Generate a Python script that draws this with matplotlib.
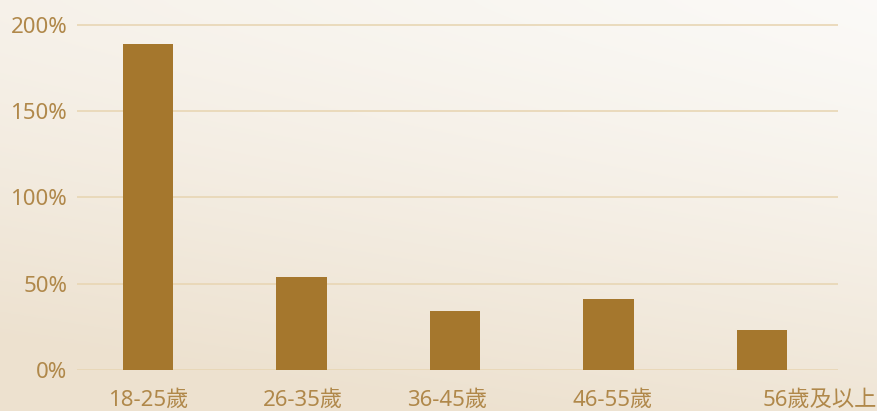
import numpy as np
import matplotlib
matplotlib.use('Agg')
import matplotlib.pyplot as plt
from matplotlib.transforms import ScaledTranslation

plt.rcParams['font.family'] = ['Noto Sans', 'Noto Sans CJK TC', 'DejaVu Sans']

age_groups = ['18-25歲', '26-35歲', '36-45歲', '46-55歲', '56歲及以上']
growth = [189, 54, 34, 41, 23]
y_ticks = [0, 50, 100, 150, 200]

bar_color = '#a5772d'
text_color = '#b0884a'
grid_color = '#e8d6b4'

fig = plt.figure(figsize=(8.77, 4.11), dpi=100)

# soft diagonal gradient background
bg = fig.add_axes([0, 0, 1, 1])
yy, xx = np.mgrid[0:1:200j, 0:1:400j]
t = np.clip((yy ** 1.3 * 0.85 + (1 - xx) * 0.35), 0, 1)
top = np.array([0.985, 0.980, 0.970])
bottom = np.array([0.930, 0.885, 0.815])
img = top[None, None, :] * (1 - t[..., None]) + bottom[None, None, :] * t[..., None]
bg.imshow(img, aspect='auto', extent=[0, 1, 0, 1], origin='upper')
bg.axis('off')

# 1.725 px per percent, a little headroom above 200 so the top grid line is not clipped
ax = fig.add_axes([77 / 877, 1 - 370 / 411, 761 / 877, 348.5 / 411])
ax.patch.set_alpha(0)
x = np.arange(len(age_groups))
ax.bar(x, growth, width=0.326, color=bar_color, zorder=3)

ax.set_xlim(-0.4625, 4.495)
ax.set_ylim(0, 202)
ax.set_yticks(y_ticks)
ax.set_yticklabels([f'{v}%' for v in y_ticks])
ax.set_xticks(x)
ax.set_xticklabels(age_groups)
ax.yaxis.grid(True, color=grid_color, linewidth=1.2, zorder=0)
ax.tick_params(axis='both', length=0, labelsize=16, colors=text_color)
ax.tick_params(axis='y', pad=7)
ax.tick_params(axis='x', pad=14)
for s in ax.spines.values():
    s.set_visible(False)

# label offsets as in the original layout
shifts = [0, 1, -8, 4, 58]
for lab, dx in zip(ax.get_xticklabels(), shifts):
    lab.set_transform(lab.get_transform() + ScaledTranslation(dx / 100, 0, fig.dpi_scale_trans))

fig.savefig('out.png', dpi=100)
